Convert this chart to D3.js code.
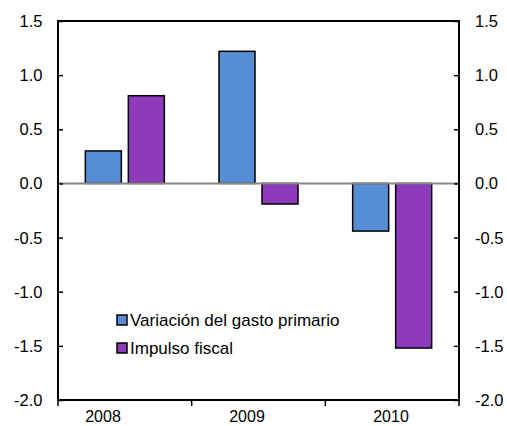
<!DOCTYPE html>
<html><head><meta charset="utf-8">
<script src="https://cdn.jsdelivr.net/npm/d3@7"></script>
<style>body{margin:0;background:#fff}text{font-family:"Liberation Sans",Arial,sans-serif;fill:#000}</style>
</head><body><svg id="c" width="507" height="426"></svg>
<script>
const categories = ["2008","2009","2010"];
const seriesNames = ["Variación del gasto primario","Impulso fiscal"];
const gasto = [0.3, 1.22, -0.44];
const impulso = [0.81, -0.19, -1.52];
const yTicks = [1.5,1.0,0.5,0.0,-0.5,-1.0,-1.5,-2.0];
const colors = ["#558ED5","#8E3ABD"];

const svg = d3.select("#c");
const L=58, R=459, T=21, B=400;
const y = d3.scaleLinear().domain([-2,1.5]).range([B,T]);
const x = d3.scaleBand().domain(categories).range([L,R]).paddingInner(0).paddingOuter(0);
const xs = d3.scaleBand().domain([0,1]).range([0,79]).paddingInner(0.163);
const labelX = d3.scalePoint().domain(categories).range([L+45,R-68]);

const data = categories.map((c,i)=>({c, v:[gasto[i], impulso[i]]}));
const g = svg.append("g");
data.forEach(d=>{
  const off = x(d.c) + x.bandwidth()/2 - 79/2;
  d.v.forEach((v,j)=>{
    g.append("rect")
      .attr("x", off + xs(j))
      .attr("width", xs.bandwidth())
      .attr("y", y(Math.max(0,v)))
      .attr("height", Math.abs(y(v)-y(0)))
      .attr("fill", colors[j]).attr("stroke","#000").attr("stroke-width",1.5);
  });
});
// zero line
svg.append("line").attr("x1",L).attr("x2",R).attr("y1",y(0)).attr("y2",y(0))
  .attr("stroke","#888").attr("stroke-width",2);

// axes
const left = svg.append("g").attr("transform",`translate(${L},0)`)
  .call(d3.axisRight(y).tickValues(yTicks).tickSize(5).tickFormat(""));
const right = svg.append("g").attr("transform",`translate(${R},0)`)
  .call(d3.axisLeft(y).tickValues(yTicks).tickSize(5).tickFormat(""));
[left,right].forEach(a=>{a.select(".domain").remove();a.selectAll("line").attr("stroke","#000").attr("stroke-width",1.5);});
const fmt = d3.format(".1f");
yTicks.forEach(t=>{
  svg.append("text").attr("x",42.5).attr("y",y(t)).attr("dy","0.36em").attr("text-anchor","end")
    .style("font-size","16.5px").text(fmt(t).replace("−","-"));
  svg.append("text").attr("x",475).attr("y",y(t)).attr("dy","0.36em").attr("text-anchor","start")
    .style("font-size","16.5px").text(fmt(t).replace("−","-"));
});
// frame
svg.append("rect").attr("x",L).attr("y",T).attr("width",R-L).attr("height",B-T)
  .attr("fill","none").attr("stroke","#000").attr("stroke-width",2);
// x ticks
const xt = [L, ...categories.map(c=>x(c)+x.bandwidth())];
xt.forEach(v=>svg.append("line").attr("x1",v).attr("x2",v).attr("y1",B).attr("y2",B+6).attr("stroke","#000").attr("stroke-width",1.5));
categories.forEach(c=>svg.append("text").attr("x",labelX(c)).attr("y",422).attr("text-anchor","middle")
  .style("font-size","16px").text(c));

// legend
seriesNames.forEach((n,i)=>{
  const ly = 320 + i*28;
  svg.append("rect").attr("x",117).attr("y",ly-5).attr("width",10).attr("height",10)
    .attr("fill",colors[i]).attr("stroke","#000").attr("stroke-width",1.5);
  svg.append("text").attr("x",130).attr("y",ly).attr("dy","0.36em").style("font-size","17px").text(n);
});
</script></body></html>
